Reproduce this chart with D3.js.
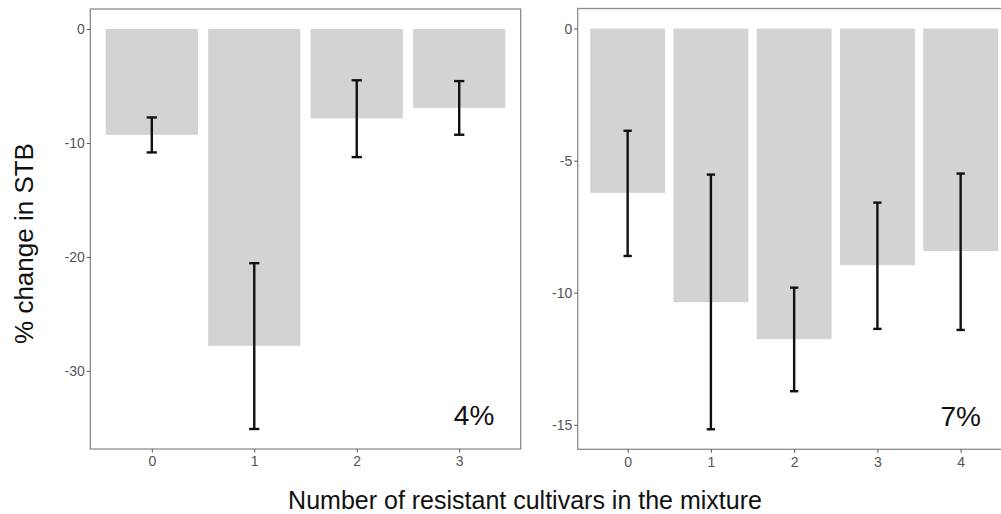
<!DOCTYPE html>
<html>
<head>
<meta charset="utf-8">
<script src="https://cdn.jsdelivr.net/npm/d3@7"></script>
<style>
  html, body { margin: 0; padding: 0; background: #fff; }
  svg { display: block; }
  text { font-family: "Liberation Sans", Arial, sans-serif; }
</style>
</head>
<body>
<svg id="chart" width="1001" height="514"></svg>
<script>
// ---- data ----
const categoriesLeft = ["0", "1", "2", "3"];
const meanLeft  = [-9.28, -27.8, -7.85, -6.92];
const lowerLeft = [-10.83, -35.1, -11.24, -9.28];
const upperLeft = [-7.76, -20.55, -4.5, -4.57];
const ticksLeft = [0, -10, -20, -30];
const labelLeft = "4%";

const categoriesRight = ["0", "1", "2", "3", "4"];
const meanRight  = [-6.22, -10.36, -11.76, -8.96, -8.42];
const lowerRight = [-8.61, -15.17, -13.73, -11.37, -11.41];
const upperRight = [-3.87, -5.53, -9.81, -6.59, -5.49];
const ticksRight = [0, -5, -10, -15];
const labelRight = "7%";

const yTitle = "% change in STB";
const xTitle = "Number of resistant cultivars in the mixture";

const svg = d3.select("#chart");

function panel(opts) {
  const { cats, mean, lower, upper, ticks, label, left, right, top, bottom, labelX, labelY } = opts;
  const n = cats.length;
  const x = d3.scaleLinear().domain([-0.6, n - 1 + 0.6]).range([left, right]);
  const dmin = d3.min(lower.concat(mean)), dmax = Math.max(0, d3.max(upper));
  const span = dmax - dmin;
  const y = d3.scaleLinear().domain([dmin - 0.05 * span, dmax + 0.05 * span]).range([bottom, top]);
  const g = svg.append("g");
  const bw = 0.9, ew = 0.1;

  g.selectAll("rect.bar").data(mean).enter().append("rect")
    .attr("class", "bar")
    .attr("x", (d, i) => x(i - bw / 2))
    .attr("width", x(bw) - x(0))
    .attr("y", y(0))
    .attr("height", d => y(d) - y(0))
    .attr("fill", "#d3d3d3");

  const eb = g.selectAll("g.eb").data(mean).enter().append("g").attr("class", "eb");
  eb.append("line")
    .attr("x1", (d, i) => x(i)).attr("x2", (d, i) => x(i))
    .attr("y1", (d, i) => y(upper[i])).attr("y2", (d, i) => y(lower[i]));
  eb.append("line")
    .attr("x1", (d, i) => x(i - ew / 2)).attr("x2", (d, i) => x(i + ew / 2))
    .attr("y1", (d, i) => y(upper[i])).attr("y2", (d, i) => y(upper[i]));
  eb.append("line")
    .attr("x1", (d, i) => x(i - ew / 2)).attr("x2", (d, i) => x(i + ew / 2))
    .attr("y1", (d, i) => y(lower[i])).attr("y2", (d, i) => y(lower[i]));
  eb.selectAll("line").attr("stroke", "#111").attr("stroke-width", 2.4);

  // border
  g.append("rect")
    .attr("x", left).attr("y", top)
    .attr("width", right - left).attr("height", bottom - top)
    .attr("fill", "none").attr("stroke", "#8c8c8c").attr("stroke-width", 1.3);

  // y axis
  const ya = d3.axisLeft(y).tickValues(ticks).tickSize(3.5).tickPadding(2).tickFormat(d3.format("d"));
  const yg = g.append("g").attr("transform", `translate(${left},0)`).call(ya);
  yg.select(".domain").remove();
  yg.selectAll("line").attr("stroke", "#555");
  yg.selectAll("text").attr("fill", "#555").style("font-size", "14px")
    .text(d => String(d).replace("−", "-"));

  // x axis
  const xa = d3.axisBottom(x).tickValues(d3.range(n)).tickSize(3.5).tickPadding(4).tickFormat(i => cats[i]);
  const xg = g.append("g").attr("transform", `translate(0,${bottom})`).call(xa);
  xg.select(".domain").remove();
  xg.selectAll("line").attr("stroke", "#555");
  xg.selectAll("text").attr("fill", "#555").style("font-size", "14px");

  g.append("text")
    .attr("x", x(labelX)).attr("y", y(labelY))
    .attr("text-anchor", "middle")
    .attr("dominant-baseline", "central")
    .style("font-size", "28px").attr("fill", "#111")
    .text(label);
}

panel({ cats: categoriesLeft, mean: meanLeft, lower: lowerLeft, upper: upperLeft, ticks: ticksLeft,
        label: labelLeft, left: 90.3, right: 520.7, top: 9, bottom: 449, labelX: 3.145, labelY: -33.9 });
panel({ cats: categoriesRight, mean: meanRight, lower: lowerRight, upper: upperRight, ticks: ticksRight,
        label: labelRight, left: 577.7, right: 1010.6, top: 8.5, bottom: 449.3, labelX: 4, labelY: -14.7 });

svg.append("text")
  .attr("transform", "translate(33,243.5) rotate(-90)")
  .attr("text-anchor", "middle")
  .style("font-size", "26px").attr("fill", "#111")
  .text(yTitle);

svg.append("text")
  .attr("x", 525).attr("y", 509)
  .attr("text-anchor", "middle")
  .style("font-size", "25px").attr("fill", "#111")
  .text(xTitle);
</script>
</body>
</html>
